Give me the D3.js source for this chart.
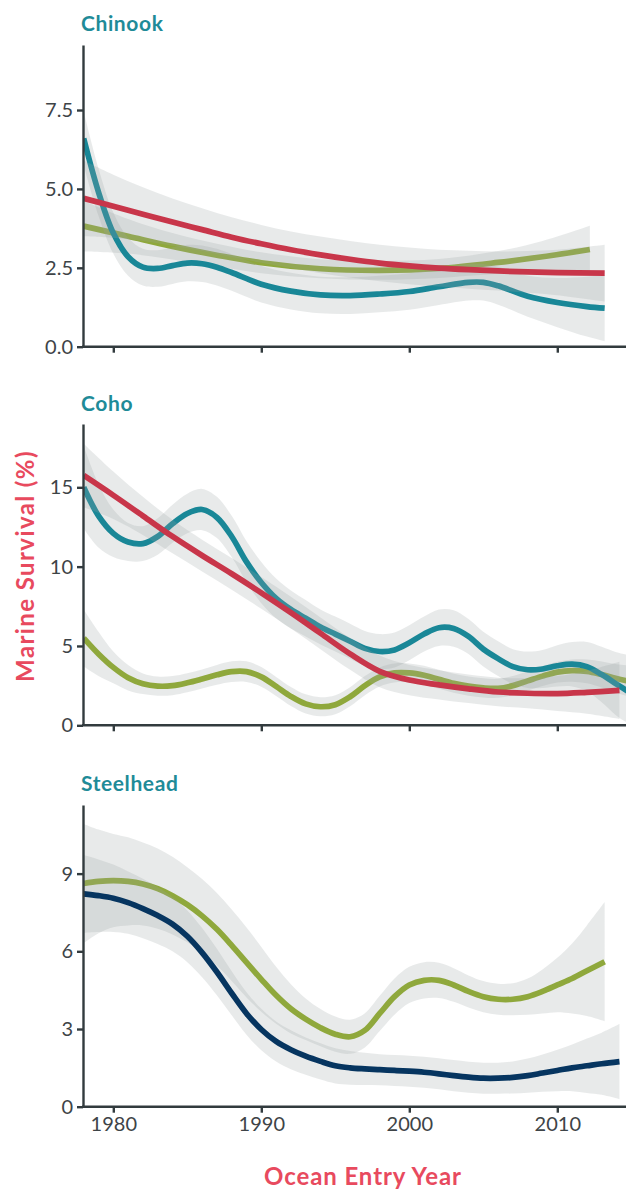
<!DOCTYPE html>
<html><head><meta charset="utf-8">
<script src="https://cdn.jsdelivr.net/npm/d3@7"></script>
<style>body{margin:0;background:#fff}svg{display:block}</style>
</head><body><svg id="c" width="626" height="1191"></svg>
<script>
// ---------- data ----------
const panelNames = ["Chinook", "Coho", "Steelhead"];
const xTicks = [1980, 1990, 2000, 2010];
const chinookTicks = [0, 2.5, 5, 7.5];
const cohoTicks = [0, 5, 10, 15];
const steelheadTicks = [0, 3, 6, 9];

// Chinook
const chinookGreenYears = [1978,1981,1984,1987,1990,1994,1998,2002,2006,2009,2012.2];
const chinookGreenValues = [3.82,3.5,3.18,2.9,2.66,2.47,2.42,2.48,2.67,2.85,3.08];
const chinookGreenCI = [0.8,0.55,0.42,0.36,0.33,0.3,0.3,0.3,0.36,0.5,0.75];

const chinookTealYears = [1978,1979,1980,1981,1982,1983,1984,1985,1986,1987,1988,1990,1992,1994,1996,1998,2000,2002,2004,2005,2006,2008,2010,2012,2013.2];
const chinookTealValues = [6.6,4.9,3.6,2.85,2.52,2.48,2.57,2.65,2.63,2.52,2.35,1.98,1.76,1.64,1.62,1.67,1.75,1.9,2.04,2.04,1.93,1.6,1.4,1.27,1.22];
const chinookTealCI = [0.85,0.75,0.65,0.6,0.58,0.58,0.58,0.58,0.58,0.58,0.58,0.58,0.58,0.58,0.58,0.58,0.58,0.58,0.58,0.58,0.6,0.65,0.78,0.95,1.05];

const chinookRedYears = [1978,1980,1982,1984,1986,1988,1990,1992,1994,1996,1998,2000,2002,2004,2006,2008,2010,2013.2];
const chinookRedValues = [4.7,4.45,4.2,3.95,3.71,3.47,3.26,3.07,2.91,2.77,2.65,2.56,2.49,2.44,2.4,2.37,2.35,2.33];
const chinookRedCI = [1.2,1.0,0.85,0.75,0.68,0.63,0.6,0.58,0.58,0.58,0.58,0.58,0.58,0.6,0.62,0.66,0.72,0.9];

// Coho
const cohoGreenYears = [1978,1979,1980,1981,1982,1983,1984,1985,1986,1987,1988,1989,1990,1991,1992,1993,1994,1995,1996,1997,1998,1999,2000,2001,2002,2003,2004,2005,2006,2007,2008,2009,2010,2011,2012,2013,2014,2015];
const cohoGreenValues = [5.5,4.5,3.65,3.0,2.62,2.47,2.5,2.68,2.92,3.18,3.38,3.38,3.05,2.45,1.82,1.35,1.17,1.3,1.8,2.5,3.05,3.3,3.3,3.15,2.9,2.65,2.47,2.36,2.33,2.5,2.8,3.1,3.35,3.45,3.4,3.2,2.95,2.75];
const cohoGreenCI = [1.8,1.4,1.0,0.8,0.65,0.6,0.6,0.6,0.6,0.62,0.65,0.65,0.62,0.6,0.6,0.6,0.6,0.6,0.6,0.6,0.6,0.6,0.6,0.6,0.6,0.6,0.6,0.6,0.6,0.6,0.6,0.62,0.65,0.7,0.75,0.82,0.9,1.0];

const cohoTealYears = [1978,1979,1980,1981,1982,1983,1984,1985,1986,1987,1988,1989,1990,1991,1992,1993,1994,1995,1996,1997,1998,1999,2000,2001,2002,2003,2004,2005,2006,2007,2008,2009,2010,2011,2012,2013,2014,2015];
const cohoTealValues = [15.0,13.2,12.1,11.55,11.45,11.9,12.7,13.35,13.6,13.1,11.9,10.3,9.0,8.0,7.3,6.75,6.2,5.75,5.3,4.85,4.65,4.75,5.2,5.75,6.15,6.1,5.6,4.8,4.2,3.7,3.5,3.55,3.75,3.85,3.7,3.2,2.6,2.0];
const cohoTealCI = [2.6,2.0,1.5,1.2,1.1,1.15,1.2,1.25,1.3,1.3,1.3,1.3,1.3,1.25,1.2,1.15,1.1,1.1,1.1,1.1,1.1,1.1,1.1,1.1,1.15,1.15,1.1,1.1,1.1,1.1,1.15,1.2,1.3,1.4,1.55,1.75,2.0,2.4];

const cohoRedYears = [1978,1980,1982,1984,1986,1988,1990,1992,1994,1996,1998,2000,2002,2004,2006,2008,2010,2012,2014.2];
const cohoRedValues = [15.75,14.5,13.2,11.9,10.7,9.55,8.35,7.1,5.8,4.5,3.4,2.85,2.55,2.3,2.1,2.02,2.0,2.08,2.2];
const cohoRedCI = [2.0,1.5,1.2,1.05,1.0,1.0,1.0,1.0,1.0,1.0,1.0,0.95,0.92,0.9,0.9,0.95,1.1,1.35,1.8];

// Steelhead
const steelGreenYears = [1978,1979,1980,1981,1982,1983,1984,1985,1986,1987,1988,1989,1990,1991,1992,1993,1994,1995,1996,1997,1998,1999,2000,2001,2002,2003,2004,2005,2006,2007,2008,2009,2010,2011,2012,2013.2];
const steelGreenValues = [8.62,8.7,8.73,8.7,8.6,8.42,8.15,7.8,7.37,6.85,6.23,5.57,4.92,4.3,3.78,3.38,3.05,2.8,2.7,2.95,3.6,4.25,4.7,4.88,4.88,4.7,4.45,4.25,4.15,4.15,4.25,4.45,4.7,4.95,5.25,5.6];
const steelGreenCI = [2.3,2.0,1.8,1.7,1.6,1.55,1.5,1.45,1.42,1.4,1.38,1.35,1.25,1.1,0.95,0.8,0.72,0.68,0.66,0.66,0.68,0.7,0.7,0.7,0.68,0.65,0.62,0.6,0.6,0.62,0.7,0.85,1.05,1.35,1.75,2.3];

const steelNavyYears = [1978,1979,1980,1981,1982,1983,1984,1985,1986,1987,1988,1989,1990,1991,1992,1993,1994,1995,1996,1997,1998,1999,2000,2001,2002,2003,2004,2005,2006,2007,2008,2009,2010,2011,2012,2013,2014.2];
const steelNavyValues = [8.22,8.15,8.05,7.88,7.65,7.38,7.05,6.58,5.95,5.2,4.38,3.6,2.98,2.52,2.2,1.95,1.75,1.58,1.5,1.46,1.43,1.4,1.37,1.33,1.27,1.2,1.14,1.1,1.1,1.13,1.2,1.3,1.4,1.5,1.58,1.66,1.74];
const steelNavyCI = [1.5,1.4,1.3,1.2,1.15,1.1,1.05,1.0,0.95,0.9,0.85,0.82,0.8,0.77,0.75,0.72,0.7,0.68,0.65,0.62,0.6,0.6,0.6,0.6,0.6,0.6,0.6,0.6,0.6,0.62,0.66,0.72,0.8,0.9,1.05,1.2,1.45];

// ---------- styles ----------
const COL = {green:"#8fa83c", teal:"#198797", red:"#c8364a", navy:"#063560"};
const titleColor = "#1f8b98";
const axisTitleColor = "#e84a5e";
const axisColor = "#323b3e";
const tickTextColor = "#3e4447";
const FONT = "Lato, 'Open Sans', sans-serif";

function series(years, values, ci, color) {
  return {
    color,
    pts: years.map((yr, i) => ({year: yr, v: values[i], lo: Math.max(0, values[i] - ci[i]), hi: values[i] + ci[i]}))
  };
}

const panels = [
  {name: panelNames[0], top: 45, bottom: 346.7, ymax: 9.56, ticks: chinookTicks, fmt: d3.format(".1f"), titleY: 30.5,
   series: [series(chinookGreenYears, chinookGreenValues, chinookGreenCI, COL.green),
            series(chinookTealYears, chinookTealValues, chinookTealCI, COL.teal),
            series(chinookRedYears, chinookRedValues, chinookRedCI, COL.red)]},
  {name: panelNames[1], top: 424, bottom: 725.3, ymax: 18.99, ticks: cohoTicks, fmt: d3.format("d"), titleY: 410.5,
   series: [series(cohoGreenYears, cohoGreenValues, cohoGreenCI, COL.green),
            series(cohoTealYears, cohoTealValues, cohoTealCI, COL.teal),
            series(cohoRedYears, cohoRedValues, cohoRedCI, COL.red)]},
  {name: panelNames[2], top: 805, bottom: 1106.7, ymax: 11.65, ticks: steelheadTicks, fmt: d3.format("d"), titleY: 790.5,
   series: [series(steelGreenYears, steelGreenValues, steelGreenCI, COL.green),
            series(steelNavyYears, steelNavyValues, steelNavyCI, COL.navy)]}
];

const svg = d3.select("#c");
const W = 626;
const x = d3.scaleLinear().domain([1978, 2015]).range([83.7, 631.3]);
const curve = d3.curveCatmullRom.alpha(0.5);

panels.forEach((p, pi) => {
  const y = d3.scaleLinear().domain([0, p.ymax]).range([p.bottom, p.top]);
  const clipId = "clip" + pi;
  svg.append("clipPath").attr("id", clipId).append("rect")
    .attr("x", 83).attr("y", p.top).attr("width", W - 83).attr("height", p.bottom - p.top);
  const g = svg.append("g").attr("clip-path", `url(#${clipId})`);

  const area = d3.area().x(d => x(d.year)).y0(d => y(d.lo)).y1(d => y(d.hi)).curve(curve);
  const line = d3.line().x(d => x(d.year)).y(d => y(d.v)).curve(curve);

  p.series.forEach(s => {
    g.append("path").attr("d", area(s.pts)).attr("fill", "#9ba4a4").attr("fill-opacity", 0.23);
    g.append("path").attr("d", line(s.pts)).attr("fill", "none").attr("stroke", s.color)
      .attr("stroke-width", 5.7).attr("stroke-linecap", "butt");
  });

  // y axis
  const ya = svg.append("g").attr("transform", "translate(83,0)")
    .call(d3.axisLeft(y).tickValues(p.ticks).tickFormat(p.fmt).tickSize(6).tickSizeOuter(0).tickPadding(4));
  ya.select(".domain").attr("stroke", axisColor).attr("stroke-width", 2.4);
  ya.selectAll(".tick line").attr("stroke", axisColor).attr("stroke-width", 2.4);
  ya.selectAll(".tick text").attr("fill", tickTextColor).style("font-family", FONT).style("font-size", "20px");

  // x axis
  const xa = svg.append("g").attr("transform", `translate(0,${p.bottom})`)
    .call(d3.axisBottom(x).tickValues(xTicks).tickFormat(pi === 2 ? d3.format("d") : () => "").tickSize(6).tickSizeOuter(0).tickPadding(4));
  xa.select(".domain").attr("stroke", axisColor).attr("stroke-width", 2.4).attr("d", `M82,0H${W + 10}`);
  xa.selectAll(".tick line").attr("stroke", axisColor).attr("stroke-width", 2.4);
  xa.selectAll(".tick text").attr("fill", tickTextColor).style("font-family", FONT).style("font-size", "20px");

  // panel title
  svg.append("text").attr("x", 81).attr("y", p.titleY).text(p.name)
    .attr("fill", titleColor).style("font-family", FONT).style("font-weight", 700).style("font-size", "21px")
    .style("letter-spacing", "0.6px");
});

// axis titles
svg.append("text").attr("transform", "translate(33.5,566) rotate(-90)").attr("text-anchor", "middle")
  .text("Marine Survival (%)").attr("fill", axisTitleColor)
  .style("font-family", FONT).style("font-weight", 700).style("font-size", "24px").style("letter-spacing", "1.4px");
svg.append("text").attr("x", 363).attr("y", 1185).attr("text-anchor", "middle")
  .text("Ocean Entry Year").attr("fill", axisTitleColor)
  .style("font-family", FONT).style("font-weight", 700).style("font-size", "24px").style("letter-spacing", "0.9px");
</script></body></html>
